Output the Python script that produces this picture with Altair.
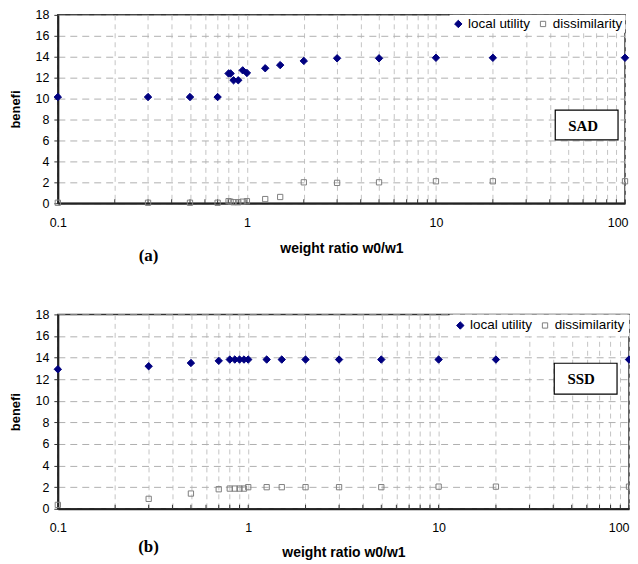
import altair as alt
import pandas as pd

# ---- data ----
series_names = ["local utility", "dissimilarity"]
panel_tags = ["(a)", "(b)"]
method_tags = ["SAD", "SSD"]

x_a = [0.1, 0.3, 0.5, 0.7, 0.8, 0.82, 0.85, 0.9, 0.95, 1.0, 1.25, 1.5, 2, 3, 5, 10, 20, 100]
util_a = [10.15, 10.15, 10.15, 10.15, 12.4, 12.4, 11.75, 11.75, 12.7, 12.45, 12.9, 13.2, 13.6, 13.85, 13.85, 13.9, 13.9, 13.9]
dissim_a = [0.05, 0.05, 0.05, 0.05, 0.2, 0.15, 0.1, 0.1, 0.15, 0.2, 0.4, 0.6, 2.0, 1.95, 2.0, 2.1, 2.1, 2.1]

x_b = [0.1, 0.3, 0.5, 0.7, 0.8, 0.85, 0.9, 0.95, 1.0, 1.25, 1.5, 2, 3, 5, 10, 20, 100]
util_b = [12.92, 13.2, 13.5, 13.7, 13.82, 13.82, 13.82, 13.82, 13.82, 13.82, 13.82, 13.82, 13.82, 13.82, 13.82, 13.82, 13.82]
dissim_b = [0.36, 0.92, 1.41, 1.81, 1.87, 1.87, 1.87, 1.87, 2.0, 2.0, 2.0, 2.0, 2.0, 2.0, 2.05, 2.05, 2.05]

y_ticks = [0, 2, 4, 6, 8, 10, 12, 14, 16, 18]
x_grid = [0.1, 0.2, 0.3, 0.4, 0.5, 0.6, 0.7, 0.8, 0.9,
          1, 2, 3, 4, 5, 6, 7, 8, 9,
          10, 20, 30, 40, 50, 60, 70, 80, 90, 100]

SANS = "Liberation Sans"
SERIF = "Liberation Serif"


def panel(xs, util, dis, tag, method, w, h, tag_y, title_y, lab_pad, last_off, leg_pad, box):
    n = len(xs)
    df = pd.DataFrame({
        "x": xs + xs,
        "v": util + dis,
        "s": [series_names[0]] * n + [series_names[1]] * n,
    })
    xscale = alt.Scale(type="log", domain=[0.1, 100], nice=False)
    yscale = alt.Scale(domain=[0, 18], nice=False, zero=False)
    xaxis = alt.Axis(
        values=x_grid, format="~g",
        labelExpr="indexof([0.1,1,10,100], datum.value) >= 0 ? datum.label : ''",
        labelFlush=False,
        labelAlign={"condition": {"test": "datum.value >= 99", "value": "right"}, "value": "center"},
        labelOffset={"condition": {"test": "datum.value >= 99", "value": last_off}, "value": 0},
        ticks=False, grid=True, gridDash=[5, 4], gridColor="#c4c4c4", gridWidth=1,
        domainColor="#222", domainWidth=2,
        labelPadding=lab_pad, labelFontSize=12.5, labelFont=SANS, labelColor="#000",
        title="weight ratio w0/w1", titleFont=SANS, titleFontSize=14,
        titleFontWeight="bold", titleColor="#000",
        titleY=title_y, titleBaseline="middle",
    )
    yaxis = alt.Axis(
        values=y_ticks, grid=True, gridDash=[7, 5], gridColor="#b0b0b0", gridWidth=1,
        ticks=True, tickSize=4, tickColor="#333", tickWidth=1,
        domainColor="#222", domainWidth=2,
        labelPadding=5, labelFontSize=12.5, labelFont=SANS, labelColor="#000",
        title="benefi", titleFont=SANS, titleFontSize=13, titleFontWeight="bold",
        titleColor="#000", titleX=-42, titleY=h / 2, titleBaseline="middle",
    )
    leg = alt.Legend(title=None, padding=leg_pad)
    points = alt.Chart(df).mark_point(opacity=1, strokeWidth=1).encode(
        x=alt.X("x:Q", scale=xscale, axis=xaxis),
        y=alt.Y("v:Q", scale=yscale, axis=yaxis),
        shape=alt.Shape("s:N", scale=alt.Scale(domain=series_names, range=["diamond", "square"]), legend=leg),
        fill=alt.Fill("s:N", scale=alt.Scale(domain=series_names, range=["#000080", "transparent"]), legend=leg),
        stroke=alt.Stroke("s:N", scale=alt.Scale(domain=series_names, range=["#000080", "#808080"]), legend=leg),
        size=alt.Size("s:N", scale=alt.Scale(domain=series_names, range=[55, 28]), legend=leg),
    )
    minor = alt.Chart(pd.DataFrame({"x": x_grid})).mark_rule(color="#333", strokeWidth=1).encode(
        x=alt.X("x:Q", scale=xscale, axis=xaxis),
        y=alt.value(h - 4), y2=alt.value(h),
    )
    tagdf = pd.DataFrame({"t": [tag]})
    tag_text = alt.Chart(tagdf).mark_text(font=SERIF, fontWeight="bold", fontSize=17, color="#000").encode(
        text="t:N", x=alt.value(91), y=alt.value(tag_y)
    )
    mdf = pd.DataFrame({"t": [method]})
    mbox = alt.Chart(mdf).mark_rect(fill="white", stroke="#000", strokeWidth=1.2).encode(
        x=alt.value(box[0]), x2=alt.value(box[1]), y=alt.value(box[2]), y2=alt.value(box[3])
    )
    mtext = alt.Chart(mdf).mark_text(font=SERIF, fontWeight="bold", fontSize=15, color="#000").encode(
        text="t:N", x=alt.value(box[4]), y=alt.value(box[5])
    )
    return alt.layer(mbox, mtext, minor, points, tag_text).properties(width=w, height=h)


top = panel(x_a, util_a, dissim_a, panel_tags[0], method_tags[0], 569, 189,
            tag_y=241.5, title_y=45.5, lab_pad=13.25, last_off=3, leg_pad=2,
            box=(499, 562, 95.5, 125.5, 527, 111.5))
bottom = panel(x_b, util_b, dissim_b, panel_tags[1], method_tags[1], 573, 195,
               tag_y=233, title_y=44, lab_pad=13, last_off=0, leg_pad=4,
               box=(498, 561, 49, 80, 525, 65))

chart = alt.vconcat(top, bottom, spacing=42.5).resolve_scale(
    x="independent", y="independent", shape="independent", fill="independent",
    stroke="independent", size="independent",
).resolve_legend(
    shape="independent", fill="independent", stroke="independent", size="independent"
).properties(
    padding={"left": 1, "top": -1, "right": -6, "bottom": 0}, background="white"
).configure_view(
    stroke="#333", strokeWidth=1.5
).configure_legend(
    orient="top-right", offset=0, direction="horizontal", fillColor="white",
    labelFont=SANS, labelFontSize=13.5, labelColor="#000",
    symbolStrokeWidth=1, columnPadding=6, labelOffset=3, labelLimit=200,
)

chart.save("out.html", embed_options={"renderer": "svg", "actions": False})
